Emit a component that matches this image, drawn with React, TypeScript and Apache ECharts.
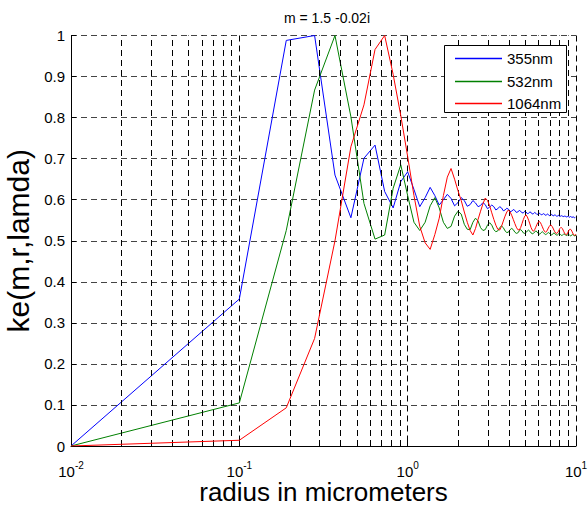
import React, { useEffect, useRef } from "react";
import * as echarts from "echarts";

const radius = [
  0.01, 0.10, 0.19, 0.28, 0.37, 0.46, 0.55, 0.64, 0.73, 0.82,
  0.91, 1.00, 1.09, 1.18, 1.27, 1.36, 1.45, 1.54, 1.63, 1.72,
  1.81, 1.90, 1.99, 2.08, 2.17, 2.26, 2.35, 2.44, 2.53, 2.62,
  2.71, 2.80, 2.89, 2.98, 3.07, 3.16, 3.25, 3.34, 3.43, 3.52,
  3.61, 3.70, 3.79, 3.88, 3.97, 4.06, 4.15, 4.24, 4.33, 4.42,
  4.51, 4.60, 4.69, 4.78, 4.87, 4.96, 5.05, 5.14, 5.23, 5.32,
  5.41, 5.50, 5.59, 5.68, 5.77, 5.86, 5.95, 6.04, 6.13, 6.22,
  6.31, 6.40, 6.49, 6.58, 6.67, 6.76, 6.85, 6.94, 7.03, 7.12,
  7.21, 7.30, 7.39, 7.48, 7.57, 7.66, 7.75, 7.84, 7.93, 8.02,
  8.11, 8.20, 8.29, 8.38, 8.47, 8.56, 8.65, 8.74, 8.83, 8.92,
  9.01, 9.10, 9.19, 9.28, 9.37, 9.46, 9.55, 9.64, 9.73, 9.82,
  9.91, 10.00,
];

const ke355 = [
  0, 0.358, 0.988, 1.0, 0.660, 0.556, 0.701, 0.733, 0.620, 0.580,
  0.644, 0.668, 0.625, 0.583, 0.605, 0.630, 0.610, 0.587, 0.600, 0.613,
  0.603, 0.585, 0.593, 0.605, 0.598, 0.584, 0.588, 0.598, 0.592, 0.583,
  0.586, 0.593, 0.588, 0.578, 0.582, 0.587, 0.583, 0.575, 0.578, 0.583,
  0.580, 0.573, 0.575, 0.579, 0.577, 0.571, 0.572, 0.576, 0.574, 0.569,
  0.570, 0.574, 0.572, 0.568, 0.568, 0.572, 0.570, 0.566, 0.567, 0.570,
  0.569, 0.565, 0.566, 0.569, 0.567, 0.564, 0.565, 0.567, 0.566, 0.563,
  0.564, 0.566, 0.565, 0.562, 0.563, 0.565, 0.564, 0.561, 0.562, 0.564,
  0.563, 0.561, 0.561, 0.563, 0.562, 0.560, 0.560, 0.562, 0.561, 0.559,
  0.560, 0.561, 0.560, 0.559, 0.559, 0.560, 0.560, 0.558, 0.558, 0.559,
  0.559, 0.557, 0.558, 0.559, 0.558, 0.557, 0.557, 0.558, 0.558, 0.556,
  0.557, 0.557,
];

const ke532 = [
  0, 0.105, 0.525, 0.867, 1.0, 0.802, 0.591, 0.504, 0.514, 0.628,
  0.685, 0.610, 0.545, 0.525, 0.545, 0.585, 0.605, 0.580, 0.545, 0.530,
  0.535, 0.560, 0.572, 0.565, 0.540, 0.528, 0.527, 0.545, 0.555, 0.548,
  0.532, 0.525, 0.527, 0.538, 0.544, 0.538, 0.527, 0.522, 0.524, 0.532,
  0.536, 0.532, 0.524, 0.520, 0.521, 0.527, 0.530, 0.527, 0.521, 0.518,
  0.519, 0.524, 0.527, 0.524, 0.519, 0.518, 0.520, 0.524, 0.526, 0.523,
  0.519, 0.517, 0.518, 0.521, 0.524, 0.522, 0.518, 0.516, 0.517, 0.520,
  0.522, 0.520, 0.517, 0.515, 0.516, 0.518, 0.520, 0.519, 0.516, 0.514,
  0.515, 0.517, 0.519, 0.518, 0.515, 0.514, 0.514, 0.516, 0.518, 0.517,
  0.515, 0.513, 0.513, 0.515, 0.517, 0.516, 0.514, 0.513, 0.513, 0.514,
  0.516, 0.515, 0.513, 0.512, 0.512, 0.514, 0.515, 0.514, 0.513, 0.512,
  0.512, 0.513,
];

const ke1064 = [
  0, 0.014, 0.093, 0.262, 0.500, 0.729, 0.831, 0.966, 1.0, 0.905,
  0.805, 0.705, 0.610, 0.535, 0.495, 0.479, 0.515, 0.555, 0.610, 0.655,
  0.676, 0.650, 0.622, 0.598, 0.570, 0.545, 0.525, 0.514, 0.530, 0.552,
  0.572, 0.590, 0.604, 0.598, 0.585, 0.568, 0.552, 0.538, 0.528, 0.526,
  0.535, 0.548, 0.560, 0.570, 0.575, 0.570, 0.562, 0.552, 0.542, 0.533,
  0.527, 0.526, 0.532, 0.542, 0.552, 0.560, 0.563, 0.558, 0.550, 0.541,
  0.532, 0.526, 0.523, 0.527, 0.533, 0.540, 0.545, 0.547, 0.545, 0.540,
  0.534, 0.528, 0.523, 0.521, 0.522, 0.526, 0.531, 0.535, 0.538, 0.538,
  0.535, 0.531, 0.526, 0.522, 0.519, 0.518, 0.519, 0.522, 0.526, 0.530,
  0.532, 0.532, 0.530, 0.526, 0.522, 0.518, 0.516, 0.515, 0.516, 0.519,
  0.523, 0.526, 0.528, 0.528, 0.526, 0.523, 0.519, 0.516, 0.514, 0.513,
  0.514, 0.516,
];

const seriesNames = ["355nm", "532nm", "1064nm"];
const seriesColors = ["#0000ff", "#008000", "#ff0000"];
const minorGridX = [
  0.02, 0.03, 0.04, 0.05, 0.06, 0.07, 0.08, 0.09,
  0.2, 0.3, 0.4, 0.5, 0.6, 0.7, 0.8, 0.9,
  2, 3, 4, 5, 6, 7, 8, 9,
];
const titleText = "m = 1.5 -0.02i";
const xName = "radius in micrometers";
const yName = "ke(m,r,lamda)";

const FONT = "'Liberation Sans', Arial, Helvetica, sans-serif";

export default function App() {
  const ref = useRef<HTMLDivElement>(null);
  useEffect(() => {
    if (!ref.current) return;
    const chart = echarts.init(ref.current, undefined, { renderer: "svg" });
    const values = [ke355, ke532, ke1064];
    const dash = [6, 4];

    // legend box drawn as graphic (box, sample lines, labels)
    const legX = 444, legY = 45, legW = 122, legH = 67;
    const rowY = [58, 81, 103];
    const legendGraphic: any[] = [
      {
        id: "legend-box",
        type: "rect",
        shape: { x: legX + 0.5, y: legY + 0.5, width: legW, height: legH },
        style: { fill: "#fff", stroke: "#000", lineWidth: 1 },
        z: 100,
      },
    ];
    seriesNames.forEach((name, i) => {
      legendGraphic.push({
        id: "legend-line-" + i,
        type: "line",
        shape: { x1: 455, y1: rowY[i] + 0.5, x2: 502, y2: rowY[i] + 0.5 },
        style: { stroke: seriesColors[i], lineWidth: 1.3 },
        z: 110,
      });
      legendGraphic.push({
        id: "legend-text-" + i,
        type: "text",
        x: 507,
        y: rowY[i] + 0.5,
        style: {
          text: name,
          fill: "#000",
          fontSize: 15,
          fontFamily: FONT,
          verticalAlign: "middle",
          align: "left",
        },
        z: 110,
      });
    });

    const option: any = {
      animation: false,
      backgroundColor: "#fff",
      title: {
        text: titleText,
        left: 322,
        top: 6,
        textAlign: "center",
        textStyle: { fontSize: 14, fontWeight: "normal", color: "#000", fontFamily: FONT },
      },
      grid: {
        left: 71,
        right: 12,
        top: 35.5,
        bottom: 62,
        containLabel: false,
        outerBoundsMode: "none",
      },
      graphic: legendGraphic,
      xAxis: {
        type: "log",
        logBase: 10,
        min: 0.01,
        max: 10,
        axisLine: { show: true, onZero: false, lineStyle: { color: "#000", width: 1 } },
        axisTick: { show: true, inside: true, length: 5, lineStyle: { color: "#000" } },
        splitLine: { show: true, lineStyle: { type: dash, color: "#000", width: 1 } },
        axisLabel: {
          margin: 14,
          formatter: (v: number) => `{b|10}{s|${Math.round(Math.log10(v))}}`,
          rich: {
            b: { fontSize: 15, color: "#000", fontFamily: FONT },
            s: { fontSize: 10, color: "#000", fontFamily: FONT, padding: [0, 0, 12, 0] },
          },
        },
        name: xName,
        nameLocation: "middle",
        nameGap: 33,
        nameMoveOverlap: false,
        nameTextStyle: { fontSize: 26, color: "#000", fontFamily: FONT },
      },
      yAxis: {
        type: "value",
        min: 0,
        max: 1,
        interval: 0.1,
        axisLine: { show: true, lineStyle: { color: "#000", width: 1 } },
        axisTick: { show: true, inside: true, length: 5, lineStyle: { color: "#000" } },
        splitLine: { show: true, lineStyle: { type: dash, color: "#444", width: 1 } },
        axisLabel: {
          margin: 6,
          fontSize: 15,
          color: "#000",
          fontFamily: FONT,
          formatter: (v: number) => (v === 0 ? "0" : v === 1 ? "1" : v.toFixed(1)),
        },
        name: yName,
        nameLocation: "middle",
        nameGap: 37,
        nameTextStyle: { fontSize: 30, color: "#000", fontFamily: FONT },
      },
      series: [
        {
          name: "minor-grid",
          type: "line",
          data: [[0.01, 0]],
          symbol: "none",
          lineStyle: { opacity: 0 },
          silent: true,
          z: 1,
          markLine: {
            silent: true,
            symbol: ["none", "none"],
            label: { show: false },
            lineStyle: { type: dash, color: "#000", width: 1 },
            data: minorGridX.map((x) => ({ xAxis: x })),
          },
        },
        ...seriesNames.map((name, i) => ({
          name,
          type: "line",
          symbol: "none",
          showSymbol: false,
          z: 3 + i,
          lineStyle: { width: 1, color: seriesColors[i] },
          itemStyle: { color: seriesColors[i] },
          data: radius.map((r, j) => [r, values[i][j]]),
        })),
      ],
    };
    chart.setOption(option);
    return () => chart.dispose();
  }, []);
  return (
    <div
      ref={ref}
      style={{ position: "fixed", left: 0, top: 0, width: 588, height: 508, background: "#fff" }}
    />
  );
}
